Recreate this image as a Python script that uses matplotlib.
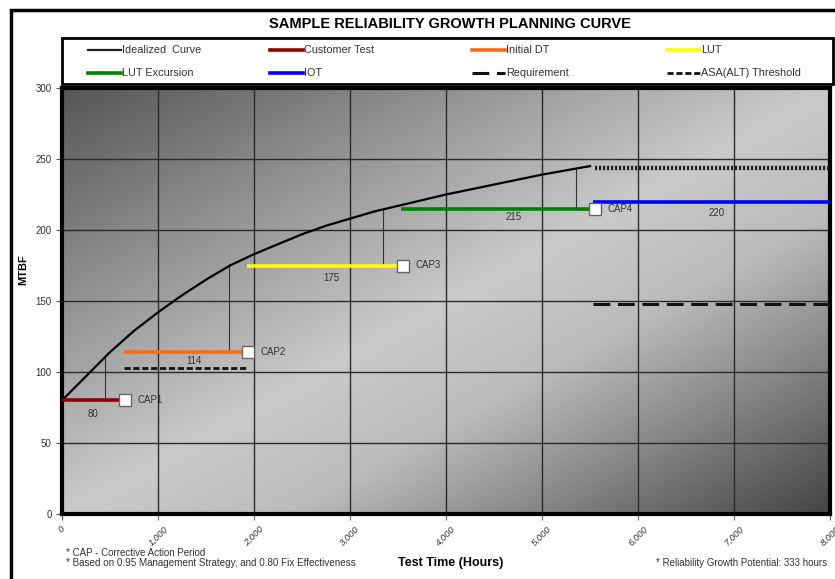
import numpy as np
import matplotlib
matplotlib.use('Agg')
import matplotlib.pyplot as plt
from matplotlib.lines import Line2D
from matplotlib.patches import Rectangle

plt.rcParams['font.family'] = ['Liberation Sans Narrow', 'Liberation Sans', 'DejaVu Sans']

# idealized curve
curve_t = [0, 250, 500, 750, 1000, 1250, 1500, 1750, 2000, 2250, 2500, 2750, 3000, 3250, 3500,
           3750, 4000, 4500, 5000, 5500]
curve_m = [80, 97, 114, 129, 142, 154, 165, 175, 183, 190, 197, 203, 208, 213, 217,
           221, 225, 232, 239, 245]
# idealized continuation after last CAP
plateau_t = [5550, 8000]
plateau_m = [244, 244]

# test phases: name, start, end, MTBF
phase_names = ['Customer Test', 'Initial DT', 'LUT', 'LUT Excursion', 'IOT']
phase_start = [0, 646, 1927, 3530, 5530]
phase_end = [656, 1937, 3550, 5552, 8000]
phase_mtbf = [80, 114, 175, 215, 220]
phase_colors = ['#8b0000', '#ff6a10', '#ffff00', '#008000', '#0000ff']
phase_label_t = [323, 1375, 2810, 4700, 6820]
phase_label_y = [70.5, 108, 166.5, 209, 212]

# CAP boxes
cap_names = ['CAP1', 'CAP2', 'CAP3', 'CAP4']
cap_t = [656, 1937, 3550, 5552]
cap_m = [80, 114, 175, 215]

# connectors from phase line up to curve
conn_t = [450, 1740, 3344, 5354]
conn_lo = [80, 114, 175, 215]
conn_hi = [111, 176, 214, 243]

# requirement / threshold
req_t = [5530, 8000]
req_m = [148, 148]
asa_t = [646, 1927]
asa_m = [103, 103]

x_ticks = [0, 1000, 2000, 3000, 4000, 5000, 6000, 7000, 8000]
y_ticks = [0, 50, 100, 150, 200, 250, 300]

REQ_DASH = (5.5, 2.5)
ASA_DASH = (2.2, 1.0)

fig = plt.figure(figsize=(8.35, 5.79), dpi=100)
W, H = 835, 579
ax = fig.add_axes([62 / W, 1 - 514 / H, 768 / W, 426 / H])

# gradient background (dark top-left, light middle, dark bottom-right)
gx, gy = np.meshgrid(np.linspace(0, 1, 300), np.linspace(0, 1, 200))
u = (gx + gy) / 2
shade = np.interp(u, [0, 0.5, 0.65, 1], [0.34, 0.79, 0.73, 0.27])
ax.imshow(shade, cmap='gray', vmin=0, vmax=1, extent=[0, 8000, 0, 300], origin='upper',
          aspect='auto', zorder=0, interpolation='bilinear')
ax.set_xlim(0, 8000)
ax.set_ylim(0, 300)

ax.set_xticks(x_ticks)
ax.set_yticks(y_ticks)
ax.grid(True, color='#2a2a2a', lw=1.0, zorder=1)
ax.set_xticklabels(['{:,}'.format(v) for v in x_ticks], rotation=45, fontsize=6.8,
                   fontstyle='italic', color='#333333')
ax.set_yticklabels([str(v) for v in y_ticks], fontsize=7, color='#333333')
ax.tick_params(axis='both', length=4, width=0.8, color='#555555')
for s in ax.spines.values():
    s.set_linewidth(3)
    s.set_color('black')

# curve
ax.plot(curve_t, curve_m, color='black', lw=1.6, zorder=4)
ax.plot(plateau_t, plateau_m, color='#222222', lw=3.2, dashes=(0.5, 0.4), zorder=4)

for t, lo, hi in zip(conn_t, conn_lo, conn_hi):
    ax.plot([t, t], [lo, hi], color='#333333', lw=0.8, zorder=3)

for s, e, m, c in zip(phase_start, phase_end, phase_mtbf, phase_colors):
    ax.plot([s, e], [m, m], color=c, lw=2.6, zorder=5, solid_capstyle='butt')

for tx, ty, m in zip(phase_label_t, phase_label_y, phase_mtbf):
    ax.text(tx, ty, str(m), fontsize=7, ha='center', va='center', color='#333333', zorder=6)

ax.plot(req_t, req_m, color='#111111', lw=2.2, dashes=REQ_DASH, zorder=4)
ax.plot(asa_t, asa_m, color='#111111', lw=2.0, dashes=ASA_DASH, zorder=4)

ax.plot(cap_t, cap_m, ls='none', marker='s', ms=9, mfc='white', mec='#666666', mew=1, zorder=7)
for t, m, n in zip(cap_t, cap_m, cap_names):
    ax.text(t + 130, m, n, fontsize=7, va='center', ha='left', color='#333333', zorder=6)

ax.set_ylabel('MTBF', fontsize=8, fontweight='bold')
ax.yaxis.set_label_coords((28 - 62) / 768, (514 - 270) / 426)

# title and outer frame
fig.text(450 / W, 1 - 24 / H, 'SAMPLE RELIABILITY GROWTH PLANNING CURVE', fontsize=10.5,
         fontweight='bold', ha='center', va='center')
fig.patches.append(Rectangle((11 / W, -0.01), 1.0, 1 - 10 / H + 0.01, transform=fig.transFigure,
                             fill=False, lw=2.5, ec='black', zorder=0))

# legend box, drawn by hand to match the column layout
fig.patches.append(Rectangle((62 / W, 1 - 84 / H), 771 / W, 46 / H, transform=fig.transFigure,
                             fill=True, fc='white', lw=2, ec='black', zorder=1))
leg_items = [
    ('Idealized  Curve', dict(color='#222222', lw=1.6)),
    ('Customer Test', dict(color=phase_colors[0], lw=2.6)),
    ('Initial DT', dict(color=phase_colors[1], lw=2.6)),
    ('LUT', dict(color=phase_colors[2], lw=2.6)),
    ('LUT Excursion', dict(color=phase_colors[3], lw=2.6)),
    ('IOT', dict(color=phase_colors[4], lw=2.6)),
    ('Requirement', dict(color='#111111', lw=2.2, dashes=REQ_DASH)),
    ('ASA(ALT) Threshold', dict(color='#111111', lw=2.0, dashes=ASA_DASH)),
]
col_x = [88, 270, 472, 667]
row_y = [50, 73]
for i, (lab, kw) in enumerate(leg_items):
    x0 = col_x[i % 4]
    y0 = row_y[i // 4]
    fig.add_artist(Line2D([x0 / W, (x0 + 33) / W], [1 - y0 / H, 1 - y0 / H],
                          transform=fig.transFigure, zorder=2, **kw))
    fig.text((x0 + 34) / W, 1 - y0 / H, lab, fontsize=7.8, va='center', ha='left',
             color='#333333', zorder=3)

fig.text(66 / W, 1 - 553 / H, '* CAP - Corrective Action Period', fontsize=7, va='center',
         color='#333333')
fig.text(66 / W, 1 - 563 / H, '* Based on 0.95 Management Strategy, and 0.80 Fix Effectiveness',
         fontsize=7.1, va='center', color='#333333')
fig.text(451 / W, 1 - 563 / H, 'Test Time (Hours)', fontsize=9, fontweight='bold',
         va='center', ha='center')
fig.text(827 / W, 1 - 563 / H, '* Reliability Growth Potential: 333 hours', fontsize=7,
         va='center', ha='right', color='#333333')

fig.savefig('out.png', dpi=100)
